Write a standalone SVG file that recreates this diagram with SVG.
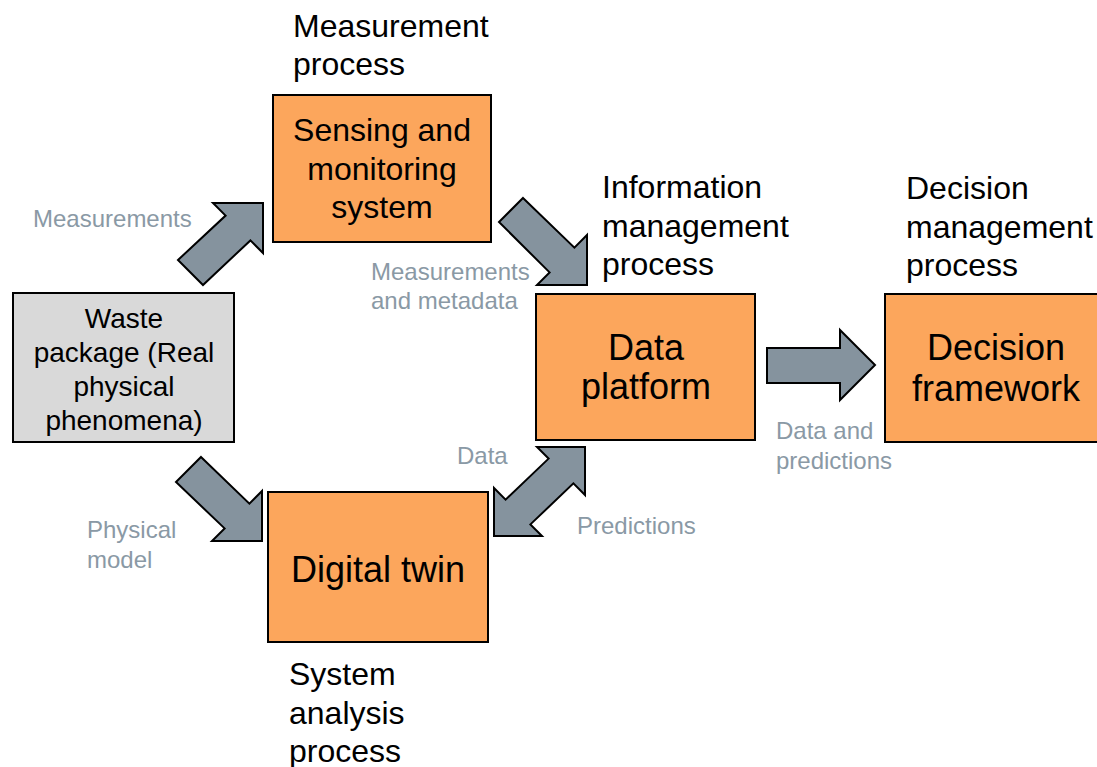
<svg xmlns="http://www.w3.org/2000/svg" width="1097" height="767" viewBox="0 0 1097 767">
  <style>
    .box { fill: #fca65c; stroke: #000; stroke-width: 2; }
    .grey { fill: #d9d9d9; stroke: #000; stroke-width: 2; }
    .arrow { fill: #85939e; stroke: #000; stroke-width: 2; stroke-linejoin: miter; }
    text { font-family: "Liberation Sans", Arial, sans-serif; fill: #000; }
    .t32 { font-size: 32px; }
    .t36 { font-size: 36px; }
    .t28 { font-size: 28px; }
    .lab { font-size: 24px; fill: #8a99a5; }
    .mid { text-anchor: middle; }
  </style>
  <rect width="1097" height="767" fill="#ffffff"/>

  <g id="connectors">
    <polygon class="arrow" points="178,260 225.6,215.6 213,203 263,203 263,253 250.4,240.4 203,285"/>
    <polygon class="arrow" points="523,198 574.4,247.6 587,235 587,285 537,285 549.6,272.4 499,222"/>
    <polygon class="arrow" points="767,348 840,348 840,330 875,365 840,400 840,383 767,383"/>
    <polygon class="arrow" points="201,457 249.4,503.6 262,491 262,541 212,541 224.6,528.4 176,482"/>
    <polygon class="arrow" points="585,447 585,495 573.4,483.4 530.4,524.4 542,536 494,536 494,488 505.6,499.6 548.6,458.6 537,447"/>
    <text class="lab" x="33" y="227">Measurements</text>
    <text class="lab" x="371" y="280">Measurements</text>
    <text class="lab" x="371" y="309">and metadata</text>
    <text class="lab" x="87" y="538">Physical</text>
    <text class="lab" x="87" y="568">model</text>
    <text class="lab" x="457" y="464">Data</text>
    <text class="lab" x="577" y="534">Predictions</text>
    <text class="lab" x="776" y="439">Data and</text>
    <text class="lab" x="776" y="469">predictions</text>
  </g>

  <g id="waste-package">
    <rect class="grey" x="13" y="293" width="221" height="149"/>
    <text class="t28 mid" x="124" y="328">Waste</text>
    <text class="t28 mid" x="124" y="362">package (Real</text>
    <text class="t28 mid" x="124" y="396">physical</text>
    <text class="t28 mid" x="124" y="430">phenomena)</text>
  </g>

  <g id="sensing">
    <rect class="box" x="273" y="95" width="218" height="147"/>
    <text class="t32 mid" x="382" y="141">Sensing and</text>
    <text class="t32 mid" x="382" y="180">monitoring</text>
    <text class="t32 mid" x="382" y="218">system</text>
  </g>
  <g id="measurement-process">
    <text class="t32" x="293" y="37">Measurement</text>
    <text class="t32" x="293" y="75">process</text>
  </g>

  <g id="data-platform">
    <rect class="box" x="536" y="294" width="219" height="146"/>
    <text class="t36 mid" x="646" y="360">Data</text>
    <text class="t36 mid" x="646" y="399">platform</text>
  </g>
  <g id="information-process">
    <text class="t32" x="602" y="198">Information</text>
    <text class="t32" x="602" y="237">management</text>
    <text class="t32" x="602" y="275">process</text>
  </g>

  <g id="decision-framework">
    <rect class="box" x="885" y="294" width="225" height="148"/>
    <text class="t36 mid" x="996" y="360">Decision</text>
    <text class="t36 mid" x="996" y="401">framework</text>
  </g>
  <g id="decision-process">
    <text class="t32" x="906" y="199">Decision</text>
    <text class="t32" x="906" y="238">management</text>
    <text class="t32" x="906" y="276">process</text>
  </g>

  <g id="digital-twin">
    <rect class="box" x="268" y="492" width="220" height="150"/>
    <text class="t36 mid" x="378" y="582">Digital twin</text>
  </g>
  <g id="system-process">
    <text class="t32" x="289" y="685">System</text>
    <text class="t32" x="289" y="724">analysis</text>
    <text class="t32" x="289" y="762">process</text>
  </g>
</svg>
